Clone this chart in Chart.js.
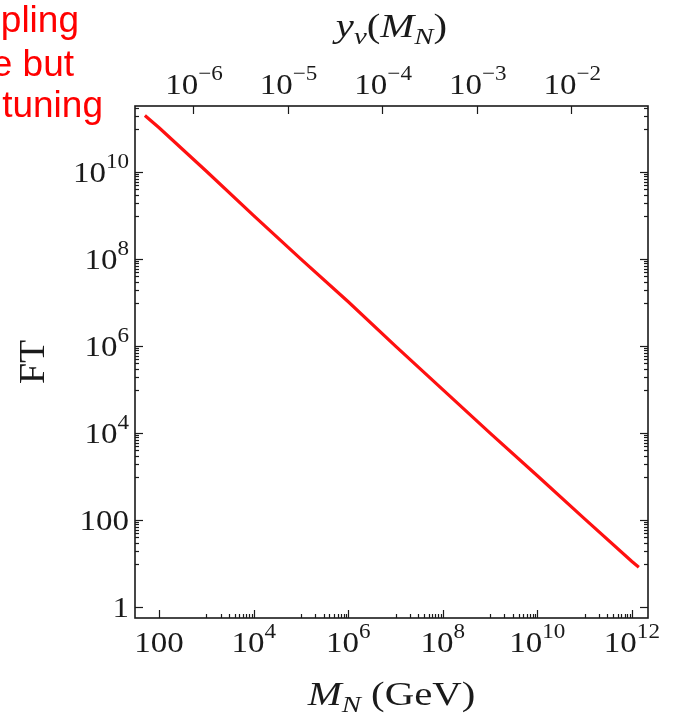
<!DOCTYPE html>
<html>
<head>
<meta charset="utf-8">
<script src="https://cdn.jsdelivr.net/npm/chart.js@4.4.1/dist/chart.umd.min.js"></script>
<style>
  html, body { margin: 0; padding: 0; background: #fff; }
  #ft_plot { display: block; }
</style>
</head>
<body>
<canvas id="ft_plot" width="676" height="717"></canvas>
<script>
// heavy neutrino mass (GeV) and the fine tuning it implies
const massGeV = [50, 1e2, 1e3, 1e4, 1e5, 1e6, 1e7, 1e8, 1e9, 1e10, 1e11, 1e12, 1.4e12];
const fineTuning = [2.0e11, 1.05e11, 1.05e10, 1.0e9, 1.0e8, 1.05e7, 1.0e6, 1.0e5, 1.0e4, 1.05e3, 107, 11.2, 8.3];

// tick labels: [mantissa text, exponent text or ""]
const bottomTicks = [1e2, 1e4, 1e6, 1e8, 1e10, 1e12];
const bottomLabels = [["100", ""], ["10", "4"], ["10", "6"], ["10", "8"], ["10", "10"], ["10", "12"]];
const leftTicks = [1, 1e2, 1e4, 1e6, 1e8, 1e10];
const leftLabels = [["1", ""], ["100", ""], ["10", "4"], ["10", "6"], ["10", "8"], ["10", "10"]];
const yukawaTicks = [1e-6, 1e-5, 1e-4, 1e-3, 1e-2];
const yukawaLabels = [["10", "\u22126"], ["10", "\u22125"], ["10", "\u22124"], ["10", "\u22123"], ["10", "\u22122"]];

const SERIF = '"Liberation Serif", "Times New Roman", serif';

// draw a run of styled pieces, horizontally stretched a little
function pieceWidth(ctx, p, sx) {
  ctx.font = (p.italic ? "italic " : "") + p.size + "px " + SERIF;
  return ctx.measureText(p.t).width * sx;
}
function drawRun(ctx, pieces, x, y, align, sx) {
  sx = sx || 1.1;
  const total = pieces.reduce((s, p) => s + pieceWidth(ctx, p, sx), 0);
  let cx = align === "center" ? x - total / 2 : align === "right" ? x - total : x;
  ctx.textAlign = "left";
  ctx.textBaseline = "alphabetic";
  pieces.forEach((p) => {
    const w = pieceWidth(ctx, p, sx);
    ctx.save();
    ctx.translate(cx, y + (p.dy || 0));
    ctx.scale(sx, 1);
    ctx.fillText(p.t, 0, 0);
    ctx.restore();
    cx += w;
  });
}
function powPieces(lbl) {
  const out = [{ t: lbl[0], size: 30 }];
  if (lbl[1]) out.push({ t: lbl[1], size: 21, dy: -14 });
  return out;
}

const frameAndText = {
  id: "frameAndText",
  afterDraw(chart) {
    const ctx = chart.ctx;
    const a = chart.chartArea;
    const xs = chart.scales.x, ys = chart.scales.y, ts = chart.scales.x2;
    ctx.save();
    ctx.strokeStyle = "#1a1a1a";
    ctx.fillStyle = "#1a1a1a";

    // frame
    ctx.lineWidth = 1.6;
    ctx.strokeRect(a.left, a.top, a.right - a.left, a.bottom - a.top);

    ctx.lineWidth = 1.2;
    const line = (x1, y1, x2, y2) => { ctx.beginPath(); ctx.moveTo(x1, y1); ctx.lineTo(x2, y2); ctx.stroke(); };

    // labelled decades get long ticks; odd decades carry the short ones
    for (let d = 2; d <= 12; d++) {
      for (let k = 1; k <= 9; k++) {
        if (d % 2 === 0 && k > 1) continue;
        const v = k * Math.pow(10, d);
        if (v < xs.min || v > xs.max) continue;
        const px = Math.round(xs.getPixelForValue(v)) + 0.5;
        const len = d % 2 === 0 ? 8 : 4;
        line(px, a.bottom, px, a.bottom - len);
      }
    }
    for (let d = 0; d <= 11; d++) {
      for (let k = 1; k <= 9; k++) {
        if (d % 2 === 0 && k > 1) continue;
        const v = k * Math.pow(10, d);
        if (v < ys.min || v > ys.max) continue;
        const py = Math.round(ys.getPixelForValue(v)) + 0.5;
        const len = d % 2 === 0 ? 8 : 4;
        line(a.left, py, a.left + len, py);
        line(a.right, py, a.right - len, py);
      }
    }
    yukawaTicks.forEach((v) => {
      const px = Math.round(ts.getPixelForValue(v)) + 0.5;
      line(px, a.top, px, a.top + 8);
    });

    // tick labels
    bottomTicks.forEach((v, i) => drawRun(ctx, powPieces(bottomLabels[i]), xs.getPixelForValue(v), 652, "center"));
    leftTicks.forEach((v, i) => drawRun(ctx, powPieces(leftLabels[i]), 129, ys.getPixelForValue(v) + 10, "right"));
    yukawaTicks.forEach((v, i) => drawRun(ctx, powPieces(yukawaLabels[i]), ts.getPixelForValue(v) + 1, 94, "center"));

    // axis titles
    const midX = (a.left + a.right) / 2;
    drawRun(ctx, [
      { t: "M", size: 34, italic: true },
      { t: "N", size: 24, italic: true, dy: 7 },
      { t: " (GeV)", size: 34 }
    ], midX, 705, "center", 1.2);
    drawRun(ctx, [
      { t: "y", size: 34, italic: true },
      { t: "\u03bd", size: 24, italic: true, dy: 7 },
      { t: "(", size: 34 },
      { t: "M", size: 34, italic: true },
      { t: "N", size: 24, italic: true, dy: 7 },
      { t: ")", size: 34 }
    ], midX, 37, "center", 1.2);

    ctx.save();
    ctx.translate(44, (a.top + a.bottom) / 2);
    ctx.rotate(-Math.PI / 2);
    drawRun(ctx, [{ t: "FT", size: 36 }], 0, 0, "center", 1.05);
    ctx.restore();

    // slide caption fragments in the corner
    ctx.fillStyle = "#ff0000";
    ctx.font = '37px "Liberation Sans", Arial, sans-serif';
    ctx.textAlign = "right";
    ctx.fillText("pling", 79, 32);
    ctx.fillText("e but", 74, 76);
    ctx.fillText("tuning", 103, 117);
    ctx.restore();
  }
};

const points = massGeV.map((m, i) => ({ x: m, y: fineTuning[i] }));
const hidden = { ticks: { display: false }, grid: { display: false }, border: { display: false } };

window.ft_plot = new Chart(document.getElementById("ft_plot"), {
  type: "line",
  data: {
    datasets: [{
      data: points,
      borderColor: "#ff1010",
      borderWidth: 3.2,
      pointRadius: 0,
      fill: false,
      tension: 0
    }]
  },
  options: {
    responsive: false,
    animation: false,
    layout: { padding: { left: 135, right: 28, top: 106, bottom: 99 } },
    plugins: { legend: { display: false }, tooltip: { enabled: false } },
    scales: {
      x: { type: "logarithmic", position: "bottom", min: Math.pow(10, 1.49), max: Math.pow(10, 12.34),
           ...hidden, afterFit: (s) => { s.height = 0; } },
      x2: { type: "logarithmic", axis: "x", position: "top", min: Math.pow(10, -6.6135), max: Math.pow(10, -1.1885),
            ...hidden, afterFit: (s) => { s.height = 0; } },
      y: { type: "logarithmic", position: "left", min: Math.pow(10, -0.25), max: Math.pow(10, 11.52),
           ...hidden, afterFit: (s) => { s.width = 0; } }
    }
  },
  plugins: [frameAndText]
});
</script>
</body>
</html>
